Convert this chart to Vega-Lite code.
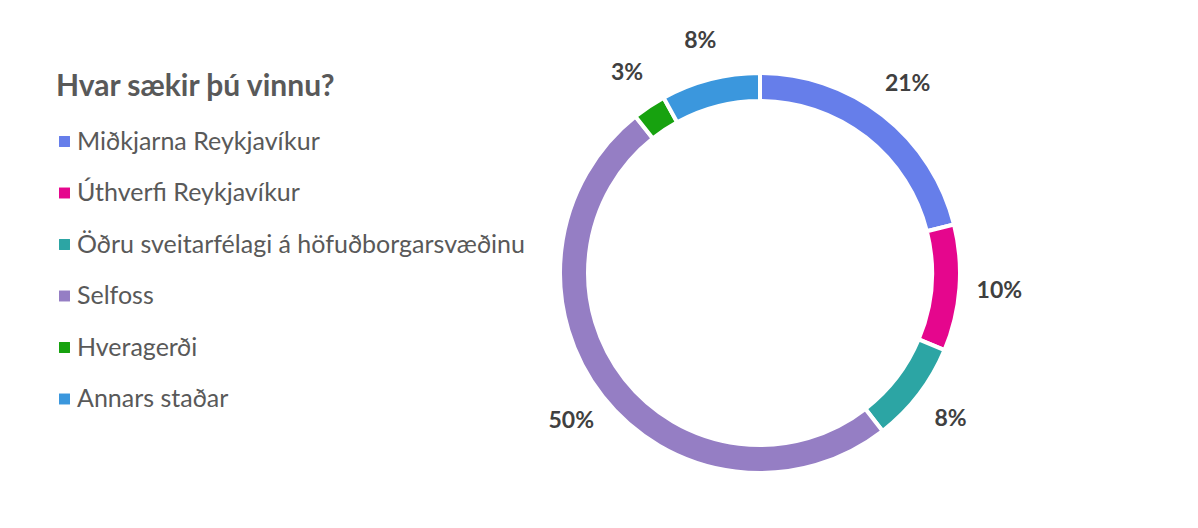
{
  "$schema": "https://vega.github.io/schema/vega-lite/v6.json",
  "width": 876,
  "height": 510,
  "autosize": {"type": "none"},
  "padding": {"left": 322, "top": 18, "right": 0, "bottom": 0},
  "background": "white",
  "config": {"view": {"stroke": null}, "font": "Lato"},
  "data": {
    "values": [
      {"place": "Miðkjarna Reykjavíkur", "share": 0.211, "ord": 1},
      {"place": "Úthverfi Reykjavíkur", "share": 0.102, "ord": 2},
      {"place": "Öðru sveitarfélagi á höfuðborgarsvæðinu", "share": 0.082, "ord": 3},
      {"place": "Selfoss", "share": 0.498, "ord": 4},
      {"place": "Hveragerði", "share": 0.027, "ord": 5},
      {"place": "Annars staðar", "share": 0.080, "ord": 6}
    ]
  },
  "encoding": {
    "theta": {"field": "share", "type": "quantitative", "stack": true},
    "order": {"field": "ord", "type": "quantitative"},
    "color": {
      "field": "place",
      "type": "nominal",
      "scale": {
        "domain": ["Miðkjarna Reykjavíkur", "Úthverfi Reykjavíkur", "Öðru sveitarfélagi á höfuðborgarsvæðinu", "Selfoss", "Hveragerði", "Annars staðar"],
        "range": ["#667EEA", "#E5068D", "#2CA5A4", "#957EC4", "#17A20F", "#3B97DD"]
      },
      "legend": {
        "title": "Hvar sækir þú vinnu?",
        "orient": "none",
        "legendX": -266,
        "legendY": 54,
        "titleFont": "Lato",
        "titleFontSize": 30,
        "titleFontWeight": "bold",
        "titleColor": "#595959",
        "titlePadding": 27,
        "titleLimit": 700,
        "labelFont": "Lato",
        "labelFontSize": 25,
        "labelColor": "#595959",
        "labelLimit": 700,
        "labelOffset": 0,
        "symbolOffset": -4,
        "symbolType": "square",
        "symbolSize": 120,
        "symbolStrokeWidth": 0,
        "rowPadding": 25.5,
        "padding": 0
      }
    }
  },
  "layer": [
    {
      "mark": {"type": "arc", "outerRadius": 200, "innerRadius": 172, "stroke": "white", "strokeWidth": 4}
    },
    {
      "mark": {"type": "text", "radius": 240, "font": "Lato", "fontSize": 23, "fontWeight": "bold", "fill": "#404040"},
      "encoding": {
        "text": {"field": "share", "type": "quantitative", "format": ".0%"},
        "color": {"value": "#404040"}
      }
    }
  ]
}
